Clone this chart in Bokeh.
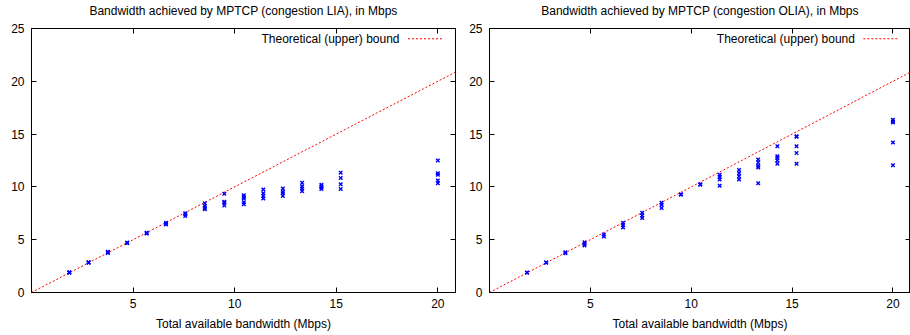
from bokeh.plotting import figure
from bokeh.layouts import row
from bokeh.models import Range1d, FixedTicker, LinearAxis, Label
from bokeh.embed import file_html
from bokeh.resources import INLINE

# ---- data ----
bandwidth = [1.86, 2.81, 3.76, 4.71, 5.67, 6.62, 7.57, 8.53, 9.49, 10.45,
             11.41, 12.37, 13.32, 14.27, 15.22, 20.0]

lia_runs = [
    [1.9, 1.88, 1.92],
    [2.85, 2.83, 2.87],
    [3.8, 3.75, 3.85],
    [4.7, 4.68, 4.72],
    [5.62, 5.6, 5.65],
    [6.6, 6.5, 6.45],
    [7.5, 7.4, 7.25],
    [8.45, 8.2, 8.0, 7.88],
    [9.35, 8.6, 8.5, 8.25],
    [9.2, 9.05, 8.9, 8.55, 8.35],
    [9.75, 9.4, 9.15, 8.9],
    [9.85, 9.55, 9.4, 9.15],
    [10.4, 10.05, 9.85, 9.6],
    [10.2, 10.05, 9.95, 9.8],
    [11.35, 10.85, 10.25, 9.8],
    [12.5, 11.3, 11.15, 10.6, 10.35],
]

olia_runs = [
    [1.9, 1.88],
    [2.85, 2.83],
    [3.8, 3.72],
    [4.75, 4.6, 4.45],
    [5.5, 5.3],
    [6.6, 6.4, 6.15],
    [7.55, 7.3, 7.05],
    [8.5, 8.3, 8.0],
    [9.3, 9.25],
    [10.25, 10.2],
    [11.15, 10.95, 10.7, 10.1],
    [11.6, 11.3, 11.0, 10.7],
    [12.6, 12.3, 12.0, 11.85, 10.35],
    [13.85, 12.9, 12.75, 12.5, 12.2],
    [14.8, 14.75, 13.85, 13.2, 12.2],
    [16.35, 16.2, 16.1, 14.2, 12.05],
]

bound_x = [0, 21]
bound_y = [0, 21]

x_ticks = [5, 10, 15, 20]
y_ticks = [0, 5, 10, 15, 20, 25]

titles = ["Bandwidth achieved by MPTCP (congestion LIA), in Mbps",
          "Bandwidth achieved by MPTCP (congestion OLIA), in Mbps"]
x_label = "Total available bandwidth (Mbps)"
legend_label = "Theoretical (upper) bound"

X_MAX = 20.87
Y_MAX = 25
FONT = "Liberation Sans"


def style_axis(ax, show_labels, standoff):
    ax.axis_line_color = "black"
    ax.axis_line_width = 1
    ax.major_tick_in = 5
    ax.major_tick_out = 0
    ax.minor_tick_in = 0
    ax.minor_tick_out = 0
    ax.major_tick_line_color = "black"
    ax.major_label_text_font = FONT
    ax.major_label_text_color = "black"
    ax.axis_label_text_font = FONT
    ax.axis_label_text_font_style = "normal"
    ax.axis_label_text_font_size = "12px"
    ax.axis_label_text_color = "black"
    if show_labels:
        ax.major_label_text_font_size = "12px"
        ax.major_label_standoff = standoff
    else:
        ax.major_label_text_font_size = "0px"
        ax.major_label_text_color = None
        ax.major_label_standoff = 0


def make_panel(title, runs, width, border_left, border_right):
    xs = [bw for bw, r in zip(bandwidth, runs) for _ in r]
    ys = [v for r in runs for v in r]
    p = figure(width=width, height=335,
               x_range=Range1d(0, X_MAX), y_range=Range1d(0, Y_MAX),
               output_backend="svg", toolbar_location=None,
               min_border_left=border_left, min_border_right=border_right,
               min_border_top=27, min_border_bottom=43)
    p.title.visible = False
    p.background_fill_color = "white"
    p.border_fill_color = "white"
    p.outline_line_color = "black"
    p.xgrid.visible = False
    p.ygrid.visible = False

    p.xaxis.ticker = FixedTicker(ticks=x_ticks)
    p.yaxis.ticker = FixedTicker(ticks=y_ticks)
    p.xaxis.axis_label = x_label
    p.xaxis.axis_label_standoff = 6
    style_axis(p.xaxis[0], True, 6)
    style_axis(p.yaxis[0], True, 7)

    # top border axis carries the panel title (gnuplot-style placement)
    top = LinearAxis(ticker=FixedTicker(ticks=x_ticks), axis_label=title)
    right = LinearAxis(ticker=FixedTicker(ticks=y_ticks))
    style_axis(top, False, 0)
    style_axis(right, False, 0)
    top.axis_label_standoff = 11
    p.add_layout(top, "above")
    p.add_layout(right, "right")

    p.line(bound_x, bound_y, line_color="red", line_dash="2 2", line_width=1)
    p.scatter(xs, ys, marker="x", size=5, line_color="blue", line_width=1.4)

    # gnuplot-style key: text then sample line, top right
    p.add_layout(Label(x=X_MAX * 0.868, y=Y_MAX * 0.961, text=legend_label,
                       text_align="right", text_baseline="middle",
                       text_font=FONT, text_font_size="12px", text_color="black"))
    p.line([X_MAX * 0.888, X_MAX * 0.97], [Y_MAX * 0.961, Y_MAX * 0.961],
           line_color="red", line_dash="2 2", line_width=1)
    return p


p1 = make_panel(titles[0], lia_runs, 456, 31, 1)
p2 = make_panel(titles[1], olia_runs, 454, 33, 0)
layout = row(p1, p2)

open("out.html", "w").write(file_html(layout, INLINE))
